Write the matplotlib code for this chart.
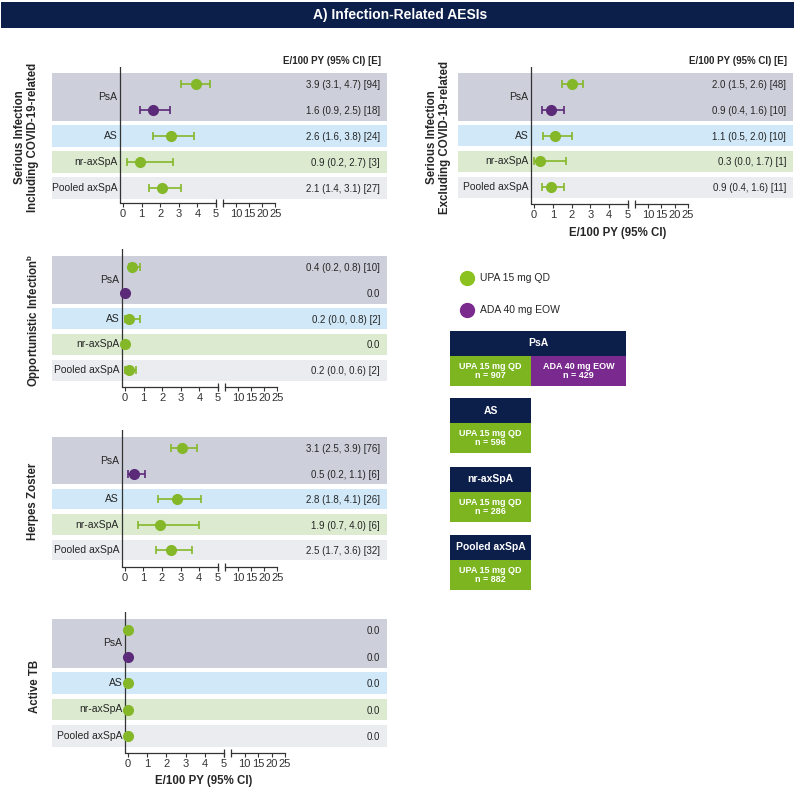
import matplotlib
matplotlib.use("Agg")
import matplotlib.pyplot as plt
from matplotlib.patches import Rectangle
import numpy as np

plt.rcParams['font.family'] = ['Liberation Sans', 'DejaVu Sans']
plt.rcParams['mathtext.fontset'] = 'custom'
plt.rcParams['mathtext.bf'] = 'Liberation Sans:bold'
plt.rcParams['mathtext.rm'] = 'Liberation Sans'

# ---- data ----
groups = ['PsA', 'AS', 'nr-axSpA', 'Pooled axSpA']
row_treat = ['UPA', 'ADA', 'UPA', 'UPA', 'UPA']   # PsA UPA, PsA ADA, AS, nr-axSpA, pooled

ser_incl_est = [3.9, 1.6, 2.6, 0.9, 2.1]
ser_incl_lo = [3.1, 0.9, 1.6, 0.2, 1.4]
ser_incl_hi = [4.7, 2.5, 3.8, 2.7, 3.1]
ser_incl_n = [94, 18, 24, 3, 27]

ser_excl_est = [2.0, 0.9, 1.1, 0.3, 0.9]
ser_excl_lo = [1.5, 0.4, 0.5, 0.0, 0.4]
ser_excl_hi = [2.6, 1.6, 2.0, 1.7, 1.6]
ser_excl_n = [48, 10, 10, 1, 11]

opp_est = [0.4, 0.0, 0.2, 0.0, 0.2]
opp_lo = [0.2, None, 0.0, None, 0.0]
opp_hi = [0.8, None, 0.8, None, 0.6]
opp_n = [10, None, 2, None, 2]

hz_est = [3.1, 0.5, 2.8, 1.9, 2.5]
hz_lo = [2.5, 0.2, 1.8, 0.7, 1.7]
hz_hi = [3.9, 1.1, 4.1, 4.0, 3.6]
hz_n = [76, 6, 26, 6, 32]

tb_est = [0.0, 0.0, 0.0, 0.0, 0.0]
tb_lo = [None] * 5
tb_hi = [None] * 5
tb_n = [None] * 5

tick_vals = [0, 1, 2, 3, 4, 5, 10, 15, 20, 25]
box_upa_n = [907, 596, 286, 882]
psa_ada_n = 429

# ---- colours ----
NAVY = '#0c1e4a'
GREEN = '#84b829'
PURPLE = '#5b2a78'
BOX_GREEN = '#7cb51f'
BOX_PURPLE = '#7a2a8e'
band_cols = ['#cdd0da', '#d0e8f7', '#dcebd0', '#ebecef']
TXT = '#262626'

W, H = 796, 790
fig = plt.figure(figsize=(W / 100, H / 100), dpi=100)

# background axes in pixel coordinates for title bar, legend and boxes
bg = fig.add_axes([0, 0, 1, 1])
bg.set_xlim(0, W)
bg.set_ylim(H, 0)
bg.axis('off')

GAP_START = 5.38
SLOPE = 0.14


def fwd(x):
    x = np.asarray(x, float)
    return np.where(x <= 5, x, GAP_START + (x - 5) * SLOPE)


def inv(t):
    t = np.asarray(t, float)
    return np.where(t <= 5, t, np.where(t < GAP_START, 5.0, 5 + (t - GAP_START) / SLOPE))


def draw_panel(est, lo, hi, n, bx0, bx1, yt, yb, r0, rs, z, u, header=False):
    ax = fig.add_axes([bx0 / W, 1 - yb / H, (bx1 - bx0) / W, (yb - yt) / H])
    ax.set_facecolor('none')
    ax.set_xscale('function', functions=(fwd, inv))
    ax.set_xlim((bx0 - z) / u, float(inv((bx1 - z) / u)))
    ax.set_ylim((yb - r0) / rs, (yt - r0) / rs)
    for s in ax.spines.values():
        s.set_visible(False)
    ax.set_yticks([])

    # group bands
    spans = [(-0.42, 1.42), (1.59, 2.41), (2.59, 3.41), (3.59, 4.41)]
    for (a, b), c in zip(spans, band_cols):
        ax.axhspan(a, b, color=c, zorder=0, lw=0)
    label_y = [0.5, 2, 3, 4]
    axis_x = -3 / u
    for g, yy in zip(groups, label_y):
        ax.text(axis_x - 2.5 / u, yy, g, ha='right', va='center', fontsize=7.5, color=TXT)

    # axis lines
    ax.axvline(axis_x, color='#333333', lw=0.9, zorder=2)
    xt = ax.get_xaxis_transform()
    ax.plot([axis_x, 5], [0, 0], color='#333333', lw=0.9, transform=xt, clip_on=False)
    ax.plot([5.0001, 25], [0, 0], color='#333333', lw=0.9, transform=xt, clip_on=False)
    ax.plot([5, 5.0001], [0, 0], ls='none', marker='|', ms=6, mew=0.9, color='#333333',
            transform=xt, clip_on=False)
    ax.set_xticks(tick_vals)
    ax.set_xticklabels([str(t) for t in tick_vals])
    ax.tick_params(axis='x', length=3, width=0.8, pad=1.5, labelsize=8, colors='#333333')
    ax.minorticks_off()

    for i, (e, l, h, k) in enumerate(zip(est, lo, hi, n)):
        col = GREEN if row_treat[i] == 'UPA' else PURPLE
        if l is None:
            ax.plot([e], [i], 'o', color=col, ms=7, zorder=4, clip_on=False)
            label = f"{e:.1f}"
        else:
            ax.errorbar([e], [i], xerr=[[e - l], [h - e]], fmt='o', color=col, ms=7,
                        elinewidth=1.2, capsize=3, capthick=1.2, zorder=4)
            label = f"{e:.1f} ({l:.1f}, {h:.1f}) [{k}]"
        ax.text(1 - 7 / (bx1 - bx0), i + 0.04, label, transform=ax.get_yaxis_transform(),
                ha='right', va='center', fontsize=7, color=TXT)
    if header:
        ax.text(1 - 6 / (bx1 - bx0), (yt - 1 - r0) / rs, 'E/100 PY (95% CI) [E]',
                transform=ax.get_yaxis_transform(), ha='right', va='bottom',
                fontsize=7, weight='bold', color=TXT)
    return ax


draw_panel(ser_incl_est, ser_incl_lo, ser_incl_hi, ser_incl_n, 52, 387, 67, 203, 84, 26, 123, 18.6, header=True)
draw_panel(ser_excl_est, ser_excl_lo, ser_excl_hi, ser_excl_n, 458, 793, 67, 204, 84, 25.8, 534, 18.8, header=True)
draw_panel(opp_est, opp_lo, opp_hi, opp_n, 52, 387, 249, 387, 267, 25.8, 125, 18.6)
draw_panel(hz_est, hz_lo, hz_hi, hz_n, 52, 387, 430, 567, 448, 25.5, 124.5, 18.7)
draw_panel(tb_est, tb_lo, tb_hi, tb_n, 52, 387, 612, 753, 630, 26.5, 128, 19.2)

# panel titles (y labels)
ylab_kw = dict(rotation=90, ha='center', va='center', fontsize=8.3, weight='bold', color=TXT,
               linespacing=1.15)
bg.text(26.5, 137, 'Serious Infection\nIncluding COVID-19-related', **ylab_kw)
bg.text(438.5, 137, 'Serious Infection\nExcluding COVID-19-related', **ylab_kw)
bg.text(34, 320, r'Opportunistic Infection$^{\mathbf{b}}$', **ylab_kw)
bg.text(33, 501, 'Herpes Zoster', **ylab_kw)
bg.text(35, 686, 'Active TB', **ylab_kw)

bg.text(204, 781, 'E/100 PY (95% CI)', ha='center', va='center', fontsize=8.3, weight='bold', color=TXT)
bg.text(618, 233, 'E/100 PY (95% CI)', ha='center', va='center', fontsize=8.3, weight='bold', color=TXT)

# title bar
bg.add_patch(Rectangle((1, 2), 793, 26, color=NAVY, lw=0))
bg.text(400, 15.5, 'A) Infection-Related AESIs', ha='center', va='center', color='white',
        fontsize=10, weight='bold')

# legend
bg.plot([467], [278], 'o', ms=10, color='#8cc21f')
bg.plot([467], [310], 'o', ms=10, color='#7b2a8e')
bg.text(480, 278, 'UPA 15 mg QD', va='center', fontsize=7.5, color=TXT)
bg.text(480, 310, 'ADA 40 mg EOW', va='center', fontsize=7.5, color=TXT)

# population boxes
box_tops = [331, 398, 467, 535]
for name, nn, top in zip(groups, box_upa_n, box_tops):
    wide = 176 if name == 'PsA' else 81
    bg.add_patch(Rectangle((450, top), wide, 25, color=NAVY, lw=0))
    bg.text(450 + wide / 2, top + 12.5, name, ha='center', va='center', color='white',
            fontsize=7.5, weight='bold')
    bg.add_patch(Rectangle((450, top + 25), 81, 30, color=BOX_GREEN, lw=0))
    bg.text(490.5, top + 40, f'UPA 15 mg QD\nn = {nn}', ha='center', va='center', color='white',
            fontsize=6.5, weight='bold', linespacing=0.95)
    if name == 'PsA':
        bg.add_patch(Rectangle((531, top + 25), 95, 30, color=BOX_PURPLE, lw=0))
        bg.text(578.5, top + 40, f'ADA 40 mg EOW\nn = {psa_ada_n}', ha='center', va='center',
                color='white', fontsize=6.5, weight='bold', linespacing=0.95)

fig.savefig('out.png', dpi=100)
